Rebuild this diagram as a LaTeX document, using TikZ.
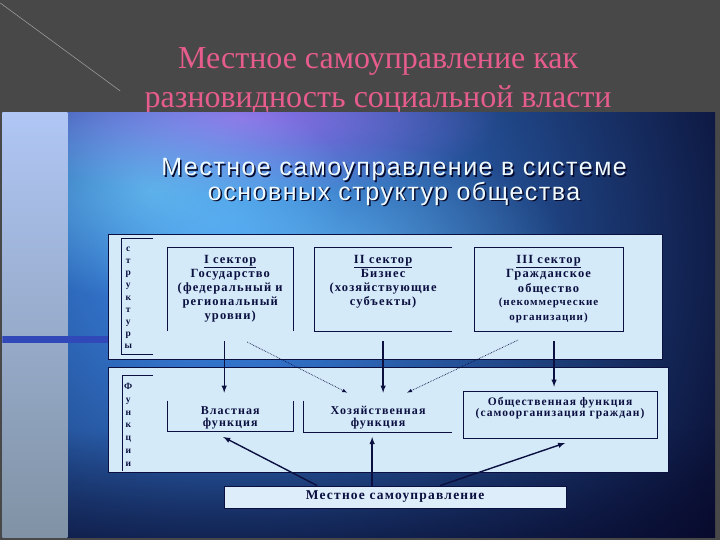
\documentclass[tikz,border=0pt]{standalone}
\usepackage{fontspec}
\setmainfont{Liberation Serif}
\newfontfamily\headfont[LetterSpace=6]{Liberation Sans}
\newfontfamily\boxfont[LetterSpace=9]{Liberation Serif}
\usepackage{xcolor}
\usepackage{tikz}
\usetikzlibrary{positioning}
\usetikzlibrary{fadings}
\definecolor{slidegrey}{RGB}{72,72,72}
\definecolor{rose}{RGB}{230,92,140}
\definecolor{deepnavy}{RGB}{8,10,44}
\definecolor{skyblue}{RGB}{60,140,240}
\definecolor{lilac}{RGB}{170,110,240}
\definecolor{aqua}{RGB}{120,215,250}
\definecolor{paleblue}{RGB}{212,234,249}
\definecolor{inkblue}{RGB}{12,16,64}
\definecolor{bandblue}{RGB}{48,72,184}
\definecolor{stripblue}{RGB}{176,198,244}
\definecolor{stripgrey}{RGB}{128,146,164}
\tikzfading[name=softspot,inner color=transparent!0,outer color=transparent!100]

\begin{document}
\begin{tikzpicture}[x=1pt,y=-1pt,
  panel/.style={draw=inkblue,line width=.4pt,fill=paleblue},
  frame/.style={rectangle,inner sep=0pt},
  edge/.style={draw=inkblue,line width=.8pt},
  lbl/.style={inner sep=0pt,align=center,text=inkblue,
    font=\boxfont\bfseries\fontsize{12.5}{14}\selectfont},
  vlbl/.style={inner sep=0pt,align=center,text=inkblue,
    font=\boxfont\bfseries\fontsize{9.5}{12.2}\selectfont},
  arr/.style={draw=inkblue,line width=1.4pt,-latex},
  dotarr/.style={draw=inkblue,line width=.7pt,densely dotted,-latex}]

  % slide background
  \fill[slidegrey] (0,0) rectangle (720,540);
  \draw[gray!80,line width=.6pt] (0,3) -- (120,91);
  \node[font=\fontsize{32}{38}\selectfont,text=rose] (head1) at (378,62) {Местное самоуправление как};
  \node[font=\fontsize{32}{38}\selectfont,text=rose] (head2) at (378,100) {разновидность социальной власти};

  % picture
  \begin{scope}
    \clip (2,113) rectangle (715,538);
    \fill[deepnavy] (2,113) rectangle (715,538);
    \shade[inner color=skyblue,outer color=deepnavy] (220,250) circle (580);
    \fill[lilac,path fading=softspot,fill opacity=.8] (240,118) ellipse (260 and 80);
    \fill[aqua,path fading=softspot,fill opacity=.6] (150,190) ellipse (200 and 110);
    \fill[aqua,path fading=softspot,fill opacity=.45] (330,250) ellipse (240 and 110);
    \fill[deepnavy,path fading=north,fill opacity=.6] (2,430) rectangle (715,538);
    \shade[top color=stripblue,bottom color=stripgrey] (2,113) rectangle (67,538);
    \fill[bandblue] (2,336) rectangle (108,343);
  \end{scope}

  % inner heading
  \node[font=\headfont\fontsize{25}{23.5}\selectfont,text=deepnavy,align=center] (subsh) at (395.5,183.5)
    {Местное самоуправление в системе\\основных структур общества};
  \node[font=\headfont\fontsize{25}{23.5}\selectfont,text=white!88!aqua,align=center] (sub) at (394,182)
    {Местное самоуправление в системе\\основных структур общества};

  % panels
  \path[panel] (108,234) rectangle (662,359);
  \path[panel] (108,367) rectangle (668,472);

  % structure column
  \draw[edge,line width=.6pt] (153,238) -- (121,238) -- (121,354) -- (153,354);
  \node[vlbl] (struct) at (128,298) {с\\т\\р\\у\\к\\т\\у\\р\\ы};
  \draw[edge,line width=.6pt] (153,375) -- (122,375) -- (122,471);
  \node[vlbl,font=\boxfont\bfseries\fontsize{9.5}{12.8}\selectfont] (func) at (128,425) {Ф\\у\\н\\к\\ц\\и\\и};

  % sectors
  \node[frame,minimum width=126,minimum height=83] (s1) at (230,289.5) {};
  \node[frame,minimum width=138,minimum height=83] (s2) at (383,289.5) {};
  \node[frame,minimum width=149,minimum height=83] (s3) at (548.5,289.5) {};
  \draw[edge] (s1.south west) -- (s1.north west) -- (s1.north east) -- (s1.south east);
  \draw[edge] (s2.north east) -- (s2.north west) -- (s2.south west) -- (s2.south east);
  \draw[edge] (s3.north west) rectangle (s3.south east);
  \node[lbl,below=7pt of s1.north] (s1t) {\underline{I сектор}\\Государство\\(федеральный и\\региональный\\уровни)};
  \node[lbl,below=7pt of s2.north] (s2t) {\underline{II сектор}\\Бизнес\\(хозяйствующие\\субъекты)};
  \node[lbl,below=7pt of s3.north,font=\boxfont\bfseries\fontsize{12.5}{14.6}\selectfont] (s3t)
    {\underline{III сектор}\\Гражданское\\общество\\[-1pt]
    {\fontsize{11}{14}\selectfont(некоммерческие}\\{\fontsize{11}{14}\selectfont организации)}};

  % functions
  \node[frame,minimum width=126,minimum height=30] (f1) at (230,416) {};
  \node[frame,minimum width=149,minimum height=31] (f2) at (377.5,416.5) {};
  \node[frame,minimum width=194,minimum height=46] (f3) at (560,415) {};
  \draw[edge] (f1.north west) -- (f1.south west) -- (f1.south east) -- (f1.north east);
  \draw[edge] (f2.north west) -- (f2.south west) -- (f2.south east);
  \draw[edge] (f3.north west) rectangle (f3.south east);
  \node[lbl,font=\boxfont\bfseries\fontsize{12}{12}\selectfont] (f1t) at (230,418) {Властная\\функция};
  \node[lbl,font=\boxfont\bfseries\fontsize{12}{12}\selectfont] (f2t) at (378,418) {Хозяйственная\\функция};
  \node[lbl,font=\boxfont\bfseries\fontsize{11.5}{11}\selectfont] (f3t) at (560,408) {Общественная функция\\(самоорганизация граждан)};

  % local self-government
  \node[draw=inkblue,line width=.4pt,fill=paleblue!80!white,minimum width=342,minimum height=22,
    lbl,font=\boxfont\bfseries\fontsize{13.5}{14}\selectfont,inner sep=0pt] (ms) at (395,497) {Местное самоуправление};

  % connectors
  \draw[arr] ([shift={(-6,10)}]s1.south) -- ([shift={(-6,-8)}]f1.north);
  \draw[arr] ([shift={(0,10)}]s2.south) -- ([shift={(5.5,-8)}]f2.north);
  \draw[arr] ([shift={(5.5,10)}]s3.south) -- ([shift={(-6,-5)}]f3.north);
  \draw[dotarr] ([shift={(17,11)}]s1.south) -- ([shift={(-30.5,-8)}]f2.north);
  \draw[dotarr] ([shift={(-30.5,9)}]s3.south) -- ([shift={(29.5,-8)}]f2.north);
  \draw[arr] ([shift={(-78,0)}]ms.north) -- ([shift={(-7,6)}]f1.south);
  \draw[arr] ([shift={(-23,0)}]ms.north) -- ([shift={(-5.5,5)}]f2.south);
  \draw[arr] ([shift={(45,0)}]ms.north) -- ([shift={(5,5)}]f3.south);
\end{tikzpicture}
\end{document}
